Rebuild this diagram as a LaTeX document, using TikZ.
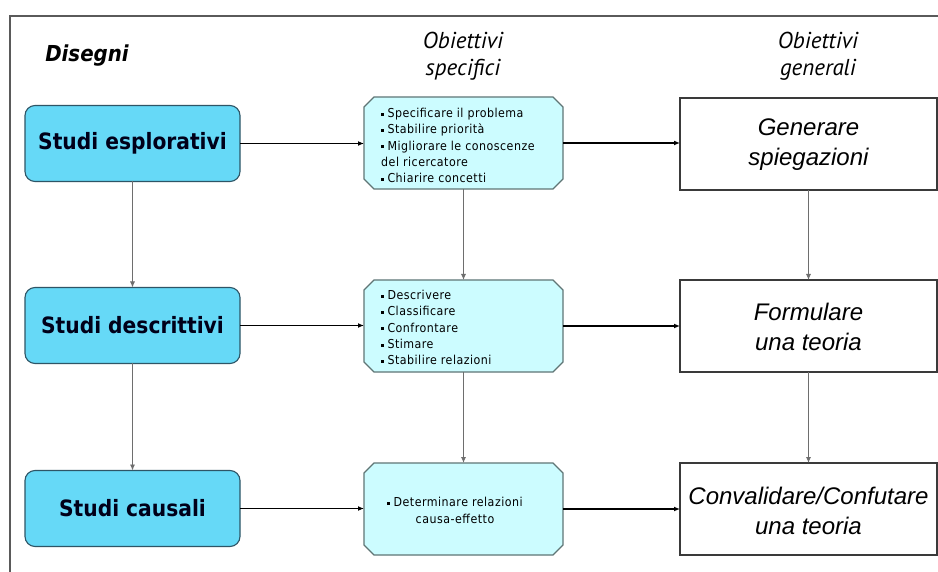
\documentclass[tikz,border=0pt]{standalone}
\usepackage{fontspec}
\setmainfont{DejaVu Sans}
\newfontfamily\condfont{DejaVu Sans Condensed}
\newfontfamily\headfont{PT Sans}
\newfontfamily\listfont[LetterSpace=4]{DejaVu Sans Condensed}
\newfontfamily\goalfont{Liberation Sans}
\usetikzlibrary{arrows.meta}

\definecolor{designfill}{HTML}{66D9F7}
\definecolor{designdraw}{HTML}{2E5566}
\definecolor{specfill}{HTML}{CCFCFF}
\definecolor{specdraw}{HTML}{5F7575}
\definecolor{goaldraw}{HTML}{3A3A3A}
\definecolor{frameline}{HTML}{5A5A5A}
\definecolor{vline}{HTML}{6E6E6E}

\newcommand{\sqbullet}{\raisebox{0.28ex}{\rule{2.8pt}{2.8pt}}\hspace{3.5pt}}
% octagonal outline around a named node, corners cut by 10pt
\newcommand{\chamferoutline}[1]{%
  \draw[specline]
    ([xshift=10pt]#1.north west) -- ([xshift=-10pt]#1.north east)
    -- ([yshift=-10pt]#1.north east) -- ([yshift=10pt]#1.south east)
    -- ([xshift=-10pt]#1.south east) -- ([xshift=10pt]#1.south west)
    -- ([yshift=10pt]#1.south west) -- ([yshift=-10pt]#1.north west)
    -- cycle;}

\tikzset{
  designbox/.style={rounded corners=10pt, fill=designfill, draw=designdraw,
    line width=1.1pt, minimum width=215pt, minimum height=76pt,
    inner sep=0pt, outer sep=0pt,
    font=\condfont\bfseries\fontsize{22.5}{26}\selectfont, text=black!90!blue},
  specbox/.style={rectangle, minimum width=199pt, minimum height=92pt,
    inner sep=0pt, outer sep=0pt},
  specline/.style={fill=specfill, draw=specdraw, line width=1.1pt},
  goalbox/.style={rectangle, draw=goaldraw, fill=white, line width=1.1pt,
    minimum width=257pt, minimum height=92pt, inner sep=0pt, outer sep=0pt},
  goaltext/.style={align=center, inner sep=0pt, text=black,
    font=\goalfont\itshape\fontsize{24}{30}\selectfont},
  listtext/.style={align=left, inner sep=0pt, anchor=west,
    font=\listfont\fontsize{12.3}{16.3}\selectfont},
  coltitle/.style={align=center, inner sep=0pt,
    font=\headfont\itshape\fontsize{23}{27}\selectfont},
  hconn/.style={draw=black, line width=1.4pt,
    -{Latex[length=6pt,width=5pt]}},
  vconn/.style={draw=vline, line width=0.9pt,
    -{Latex[length=6pt,width=5pt]}},
  frame/.style={draw=frameline, line width=1.8pt}
}

\begin{document}
\begin{tikzpicture}[x=1pt,y=-1pt]
  \fill[white] (0,0) rectangle (938,572);
  \useasboundingbox (0,0) rectangle (938,572);

  % outer frame (open at right and bottom)
  \draw[frame] (10,572) -- (10,16) -- (938,16);

  % column titles
  \node[font=\condfont\bfseries\itshape\fontsize{22}{25}\selectfont,
        inner sep=0pt] (tdis) at (87,56) {Disegni};
  \node[coltitle] (tspec) at (463,56) {Obiettivi\\specifici};
  \node[coltitle] (tgen) at (818,56) {Obiettivi\\generali};

  % research designs
  \node[designbox] (L1) at (132.5,143.5) {Studi esplorativi};
  \node[designbox] (L2) at (132.5,325.5) {Studi descrittivi};
  \node[designbox] (L3) at (132.5,508.5) {Studi causali};

  % specific objectives
  \node[specbox] (M1) at (463.5,143) {};
  \node[specbox] (M2) at (463.5,326) {};
  \node[specbox] (M3) at (463.5,509) {};
  \chamferoutline{M1}
  \chamferoutline{M2}
  \chamferoutline{M3}

  \node[listtext] (M1t) at (381,145.5) {%
    \sqbullet Specificare il problema\\
    \sqbullet Stabilire priorità\\
    \sqbullet Migliorare le conoscenze\\
    del ricercatore\\
    \sqbullet Chiarire concetti};
  \node[listtext] (M2t) at (381,327.5) {%
    \sqbullet Descrivere\\
    \sqbullet Classificare\\
    \sqbullet Confrontare\\
    \sqbullet Stimare\\
    \sqbullet Stabilire relazioni};
  \node[listtext, anchor=center, align=center] (M3t) at (455,510.5) {%
    \sqbullet Determinare relazioni\\
    causa-effetto};

  % general objectives
  \node[goalbox] (R1) at (808.5,144) {};
  \node[goalbox] (R2) at (808.5,326) {};
  \node[goalbox] (R3) at (808.5,509) {};

  \node[goaltext] (R1t) at (808.5,144.5) {Generare\\spiegazioni};
  \node[goaltext] (R2t) at (808.5,326.5) {Formulare\\una teoria};
  \node[goaltext] (R3t) at (808.5,510.5) {Convalidare/Confutare\\una teoria};

  % horizontal connectors
  \draw[hconn] (L1.east) -- (L1.east -| M1.west);
  \draw[hconn] (L2.east) -- (L2.east -| M2.west);
  \draw[hconn] (L3.east) -- (L3.east -| M3.west);
  \draw[hconn] (M1.east) -- (M1.east -| R1.west);
  \draw[hconn] (M2.east) -- (M2.east -| R2.west);
  \draw[hconn] (M3.east) -- (M3.east -| R3.west);

  % vertical connectors
  \draw[vconn] (L1.south) -- (L2.north);
  \draw[vconn] (L2.south) -- (L3.north);
  \draw[vconn] (M1.south) -- (M2.north);
  \draw[vconn] (M2.south) -- (M3.north);
  \draw[vconn] (R1.south) -- (R2.north);
  \draw[vconn] (R2.south) -- (R3.north);
\end{tikzpicture}
\end{document}
